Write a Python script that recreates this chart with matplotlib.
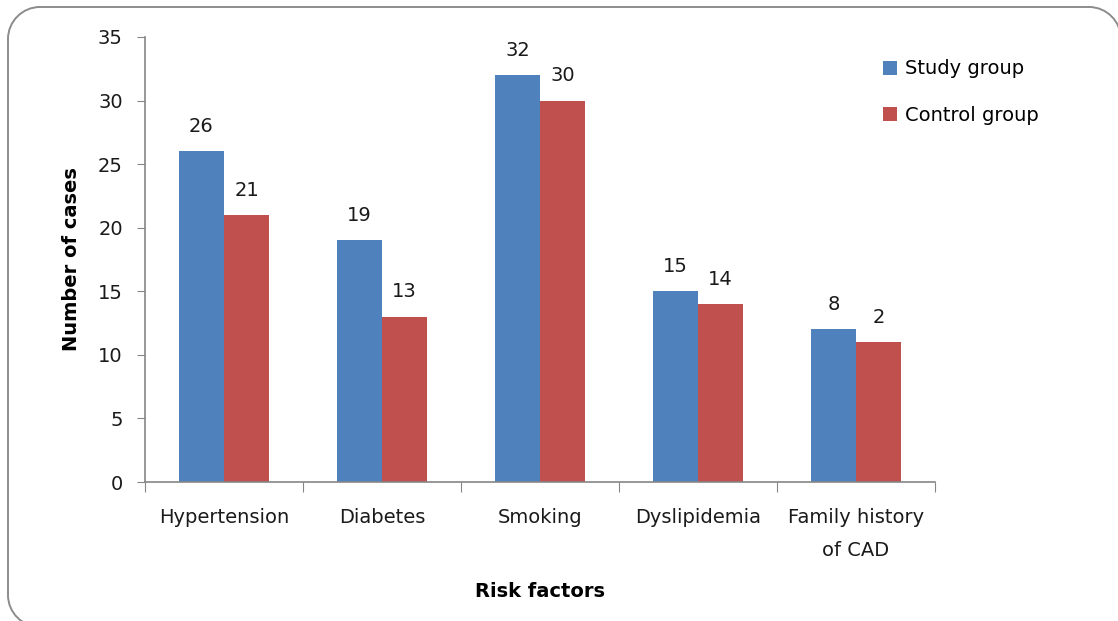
import numpy as np
import matplotlib
matplotlib.use("Agg")
from matplotlib import pyplot as plt
from matplotlib.path import Path
from matplotlib.patches import PathPatch
from matplotlib.transforms import IdentityTransform

categories = ["Hypertension", "Diabetes", "Smoking", "Dyslipidemia", "Family history\nof CAD"]
study = [26, 19, 32, 15, 12]
control = [21, 13, 30, 14, 11]
# the data labels printed on the original (the last pair differs from bar heights)
study_labels = ["26", "19", "32", "15", "8"]
control_labels = ["21", "13", "30", "14", "2"]
yticks = [0, 5, 10, 15, 20, 25, 30, 35]

plt.rcParams['font.family'] = ['DejaVu Sans']
blue = '#4F81BD'
red = '#C0504D'
grey = '#868686'
txt = '#1a1a1a'
fs = 14

fig = plt.figure(figsize=(11.18, 6.21), dpi=100)
ax = fig.add_axes([145/1118, 1-482/621, (935-145)/1118, (482-37)/621])

x = np.arange(len(categories)) + 0.5
w = 45/158
b1 = ax.bar(x - w/2, study, w, color=blue, label='Study group')
b2 = ax.bar(x + w/2, control, w, color=red, label='Control group')

for rect, lab in zip(b1, study_labels):
    ax.annotate(lab, (rect.get_x() + rect.get_width()/2, rect.get_height()),
                xytext=(0, 11), textcoords='offset points', ha='center', va='bottom',
                fontsize=fs, color=txt)
for rect, lab in zip(b2, control_labels):
    ax.annotate(lab, (rect.get_x() + rect.get_width()/2, rect.get_height()),
                xytext=(0, 11), textcoords='offset points', ha='center', va='bottom',
                fontsize=fs, color=txt)

ax.set_xlim(0, len(categories))
ax.set_ylim(0, 35)
ax.set_yticks(yticks)
ax.set_xticks(np.arange(len(categories) + 1))
ax.set_xticklabels([])
ax.set_xticks(x, minor=True)
ax.set_xticklabels(categories, minor=True, fontsize=fs, color=txt, linespacing=1.9)
ax.tick_params(axis='x', which='major', length=7, color=grey, direction='out')
ax.tick_params(axis='x', which='minor', length=0, pad=19)
ax.tick_params(axis='y', length=6, color=grey, labelsize=fs, labelcolor=txt, pad=10)
for s in ['top', 'right']:
    ax.spines[s].set_visible(False)
for s in ['left', 'bottom']:
    ax.spines[s].set_color(grey)
    ax.spines[s].set_linewidth(1.2)

ax.set_ylabel('Number of cases', fontsize=fs, fontweight='bold', labelpad=12)
ax.set_xlabel('Risk factors', fontsize=fs, fontweight='bold', labelpad=16)

fig.legend(handles=[b1, b2], loc='upper left', bbox_to_anchor=(865/1118, 1-42/621),
           frameon=False, fontsize=fs, handlelength=0.75, handleheight=0.75,
           handletextpad=0.4, labelspacing=1.4)

# rounded chart border, drawn in pixels (origin bottom-left)
H = 621
r = 32
left, top, right, bottom = 8, H - 7, 1121, -6
k = 0.55 * r
verts = [(right, bottom + r), (right, top - r),
         (right, top - r + k), (right - r + k, top), (right - r, top),
         (left + r, top),
         (left + r - k, top), (left, top - r + k), (left, top - r),
         (left, bottom + r),
         (left, bottom + r - k), (left + r - k, bottom), (left + r, bottom)]
codes = [Path.MOVETO, Path.LINETO,
         Path.CURVE4, Path.CURVE4, Path.CURVE4,
         Path.LINETO,
         Path.CURVE4, Path.CURVE4, Path.CURVE4,
         Path.LINETO,
         Path.CURVE4, Path.CURVE4, Path.CURVE4]
border = PathPatch(Path(verts, codes), transform=IdentityTransform(),
                   fill=False, edgecolor='#8c8c8c', linewidth=1.4)
fig.patches.append(border)

fig.savefig('out.png', dpi=100)
